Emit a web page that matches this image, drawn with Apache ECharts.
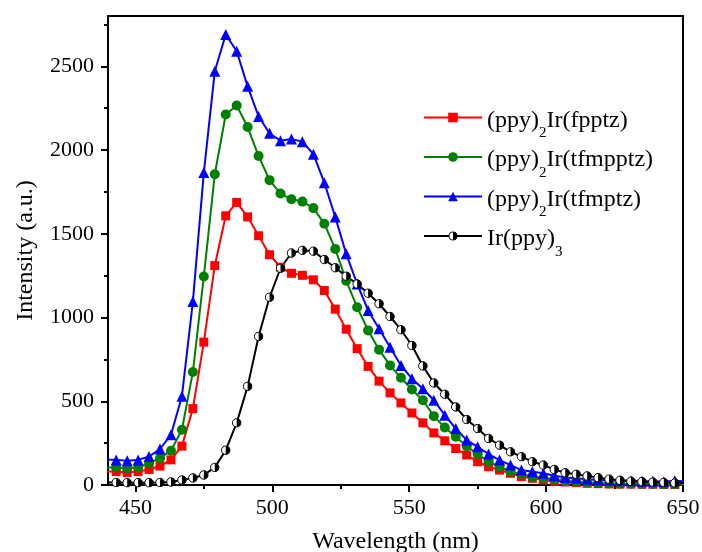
<!DOCTYPE html>
<html><head><meta charset="utf-8">
<script src="https://cdn.jsdelivr.net/npm/echarts@6/dist/echarts.min.js"></script>
<style>html,body{margin:0;padding:0;background:#fff}#c{width:702px;height:552px}</style>
</head><body><div id="c"></div>
<script>
const wavelengths = [439,443,447,451,455,459,463,467,471,475,479,483,487,491,495,499,503,507,511,515,519,523,527,531,535,539,543,547,551,555,559,563,567,571,575,579,583,587,591,595,599,603,607,611,615,619,623,627,631,635,639,643,647,651];
const fpptz = [80,80,75,80,93,113,150,232,456,853,1310,1607,1687,1601,1488,1375,1300,1264,1252,1225,1161,1050,930,814,708,620,550,490,430,371,311,264,218,179,139,109,89,70,50,40,30,22,18,14,10,8,6,5,5,4,4,3,3,3];
const tfmpptz = [105,105,100,105,130,160,205,330,675,1245,1855,2212,2266,2137,1964,1820,1740,1706,1692,1653,1560,1409,1220,1061,923,808,714,640,570,506,411,343,288,232,185,139,109,79,65,50,40,32,25,20,15,12,10,8,8,6,6,5,5,5];
const tfmptz = [153,150,145,150,170,215,300,530,1095,1865,2470,2690,2590,2380,2200,2100,2055,2065,2050,1975,1805,1600,1380,1200,1042,933,823,714,635,575,506,417,337,268,228,185,149,119,89,79,70,55,45,40,35,30,28,25,25,22,22,20,25,22];
const irppy3 = [15,15,14,14,14,15,18,30,42,60,105,208,371,589,887,1121,1294,1385,1401,1396,1346,1297,1247,1200,1145,1082,1006,927,833,711,609,542,466,391,337,278,238,198,169,139,119,93,73,64,54,44,35,28,22,20,17,15,12,12];
const seriesNames = ['(ppy)2Ir(fpptz)', '(ppy)2Ir(tfmpptz)', '(ppy)2Ir(tfmptz)', 'Ir(ppy)3'];
const xMajorTicks = [450,500,550,600,650];
const xMinorTicks = [475,525,575,625];
const yMajorTicks = [0,500,1000,1500,2000,2500];
const yMinorTicks = [250,750,1250,1750,2250,2750];
const xRange = [440, 650];
const yRange = [0, 2800];

const FONT = '"Liberation Serif", "Times New Roman", serif';
const halfSvg = '<svg xmlns="http://www.w3.org/2000/svg" width="40" height="40" viewBox="0 0 40 40"><circle cx="20" cy="20" r="17" fill="#fff" stroke="#000" stroke-width="4"/><path d="M20 3 A17 17 0 0 1 20 37 Z" fill="#000"/></svg>';
const halfSymbol = 'image://data:image/svg+xml;charset=utf-8,' + encodeURIComponent(halfSvg);

function pairs(vals){ return wavelengths.map((w,i)=>[w, vals[i]]); }
const styles = [
  {data: fpptz, color: '#ff0000', symbol: 'rect', size: 9},
  {data: tfmpptz, color: '#008000', symbol: 'circle', size: 10},
  {data: tfmptz, color: '#0000ff', symbol: 'triangle', size: 11},
  {data: irppy3, color: '#000000', symbol: halfSymbol, size: 10}
];
const series = styles.map((s, i) => ({
  name: seriesNames[i], type: 'line', xAxisIndex: 0, yAxisIndex: 0,
  data: pairs(s.data), symbol: s.symbol, symbolSize: s.size, showAllSymbol: true,
  clip: true, lineStyle: {color: s.color, width: 2}, itemStyle: {color: s.color},
  emphasis: {disabled: true}
}));

const lineStyle = {color: '#000', width: 2};
const labelStyle = {fontFamily: FONT, fontSize: 22, color: '#000'};
const nameStyle = {fontFamily: FONT, fontSize: 24, color: '#000'};
const plain = v => String(v);
const chart = echarts.init(document.getElementById('c'), null, {renderer: 'canvas'});
chart.setOption({
  animation: false,
  backgroundColor: '#fff',
  grid: [
    {left: 108, right: 19, top: 16, bottom: 67, containLabel: false, outerBoundsMode: 'none'},
    {left: 108, right: 19, top: 16, bottom: 67, containLabel: false, outerBoundsMode: 'none'}
  ],
  xAxis: [
    {type: 'value', gridIndex: 0, position: 'bottom', min: xRange[0], max: xRange[1],
     axisLine: {show: true, onZero: false, lineStyle},
     axisTick: {show: true, customValues: xMajorTicks, length: 7, lineStyle},
     axisLabel: {show: true, customValues: xMajorTicks, margin: 12, formatter: plain, ...labelStyle},
     splitLine: {show: false},
     name: 'Wavelength (nm)', nameLocation: 'middle', nameGap: 45, nameTextStyle: nameStyle},
    {type: 'value', gridIndex: 0, position: 'top', min: xRange[0], max: xRange[1],
     axisLine: {show: true, onZero: false, lineStyle}, axisTick: {show: false}, axisLabel: {show: false}, splitLine: {show: false}},
    {type: 'value', gridIndex: 1, position: 'bottom', min: xRange[0], max: xRange[1],
     axisLine: {show: false, onZero: false}, axisTick: {show: true, customValues: xMinorTicks, length: 4, lineStyle},
     axisLabel: {show: false}, splitLine: {show: false}}
  ],
  yAxis: [
    {type: 'value', gridIndex: 0, position: 'left', min: yRange[0], max: yRange[1],
     axisLine: {show: true, onZero: false, lineStyle},
     axisTick: {show: true, customValues: yMajorTicks, length: 7, lineStyle},
     axisLabel: {show: true, customValues: yMajorTicks, margin: 14, formatter: plain, ...labelStyle},
     splitLine: {show: false},
     name: 'Intensity (a.u.)', nameLocation: 'middle', nameGap: 70, nameTextStyle: nameStyle},
    {type: 'value', gridIndex: 0, position: 'right', min: yRange[0], max: yRange[1],
     axisLine: {show: true, onZero: false, lineStyle}, axisTick: {show: false}, axisLabel: {show: false}, splitLine: {show: false}},
    {type: 'value', gridIndex: 1, position: 'left', min: yRange[0], max: yRange[1],
     axisLine: {show: false, onZero: false}, axisTick: {show: true, customValues: yMinorTicks, length: 4, lineStyle},
     axisLabel: {show: false}, splitLine: {show: false}}
  ],
  legend: {
    orient: 'vertical', left: 423, top: 105.5, padding: 0, itemWidth: 58, itemHeight: 12, itemGap: 4,
    data: seriesNames,
    formatter: function(name){
      const m = name.match(/^(.*?\))(\d)(.*)$/);
      return '{m|' + m[1] + '}{s|' + m[2] + '}' + (m[3] ? '{m|' + m[3] + '}' : '');
    },
    textStyle: {
      fontFamily: FONT, fontSize: 24, color: '#000',
      rich: {
        m: {fontFamily: FONT, fontSize: 24, color: '#000', lineHeight: 24, verticalAlign: 'top', padding: [3, 0, 0, 0]},
        s: {fontFamily: FONT, fontSize: 15, color: '#000', lineHeight: 15, verticalAlign: 'top', padding: [20.5, 0, 0, 0]}
      }
    }
  },
  series
});
</script>
</body></html>
